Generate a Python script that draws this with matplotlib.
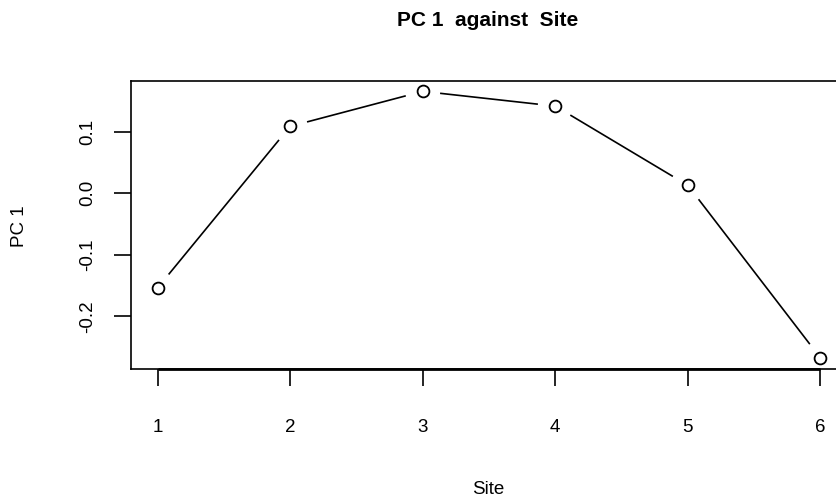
import numpy as np
import matplotlib
matplotlib.use("Agg")
import matplotlib.pyplot as plt

plt.rcParams['font.family'] = ['Liberation Sans', 'DejaVu Sans']

site = [1, 2, 3, 4, 5, 6]
pc1 = [-0.154, 0.109, 0.166, 0.142, 0.013, -0.268]
yticks = [-0.2, -0.1, 0.0, 0.1]

W, H = 837, 501
fig = plt.figure(figsize=(W / 100, H / 100), dpi=100)

# plot region in pixels (R base graphics layout)
left_px, right_px, top_px, bot_px = 131, 847, 80.7, 368.7
ax = fig.add_axes([left_px / W, 1 - bot_px / H,
                   (right_px - left_px) / W, (bot_px - top_px) / H])

# R-style 4% range extension
xlo, xhi = min(site), max(site)
ylo, yhi = min(pc1), max(pc1)
xpad = 0.04 * (xhi - xlo)
ypad = 0.04 * (yhi - ylo)
ax.set_xlim(xlo - xpad, xhi + xpad)
ax.set_ylim(ylo - ypad, yhi + ypad)
ax.autoscale(False)

# type = "b": lines with gaps around the points
gap = 17.5
disp = ax.transData.transform(np.column_stack([site, pc1]))
inv = ax.transData.inverted()
for i in range(len(site) - 1):
    p0, p1 = disp[i], disp[i + 1]
    d = p1 - p0
    n = np.hypot(*d)
    if n <= 2 * gap:
        continue
    u = d / n
    seg = inv.transform(np.array([p0 + u * gap, p1 - u * gap]))
    ax.plot(seg[:, 0], seg[:, 1], color='black', lw=1.2, solid_capstyle='butt')

ax.plot(site, pc1, linestyle='none', marker='o', markersize=8.5,
        markerfacecolor='white', markeredgecolor='black', markeredgewidth=1.3)

for s in ax.spines.values():
    s.set_linewidth(1.2)

# axis line from first to last tick
ax.plot([site[0], site[-1]], [ax.get_ylim()[0]] * 2, color='black', lw=2.0,
        clip_on=False, solid_capstyle='butt')

ax.set_xticks(site)
ax.set_xticklabels([str(s) for s in site])
ax.set_yticks(yticks)
ax.set_yticklabels(['%.1f' % v for v in yticks])
ax.tick_params(axis='both', direction='out', length=12, width=1.2, labelsize=13.5)
ax.tick_params(axis='x', pad=24)
ax.tick_params(axis='y', pad=13, labelrotation=90)
for lab in ax.get_yticklabels():
    lab.set_verticalalignment('center')

fig.text(488 / W, 1 - 20 / H, 'PC 1  against  Site', ha='center', va='center',
         fontsize=15, fontweight='bold')
fig.text(488.5 / W, 1 - 489.5 / H, 'Site', ha='center', va='center', fontsize=13.5)
fig.text(20 / W, 1 - 226 / H, 'PC 1', ha='center', va='center', rotation=90,
         fontsize=13.5)

fig.savefig('out.png', dpi=100)
